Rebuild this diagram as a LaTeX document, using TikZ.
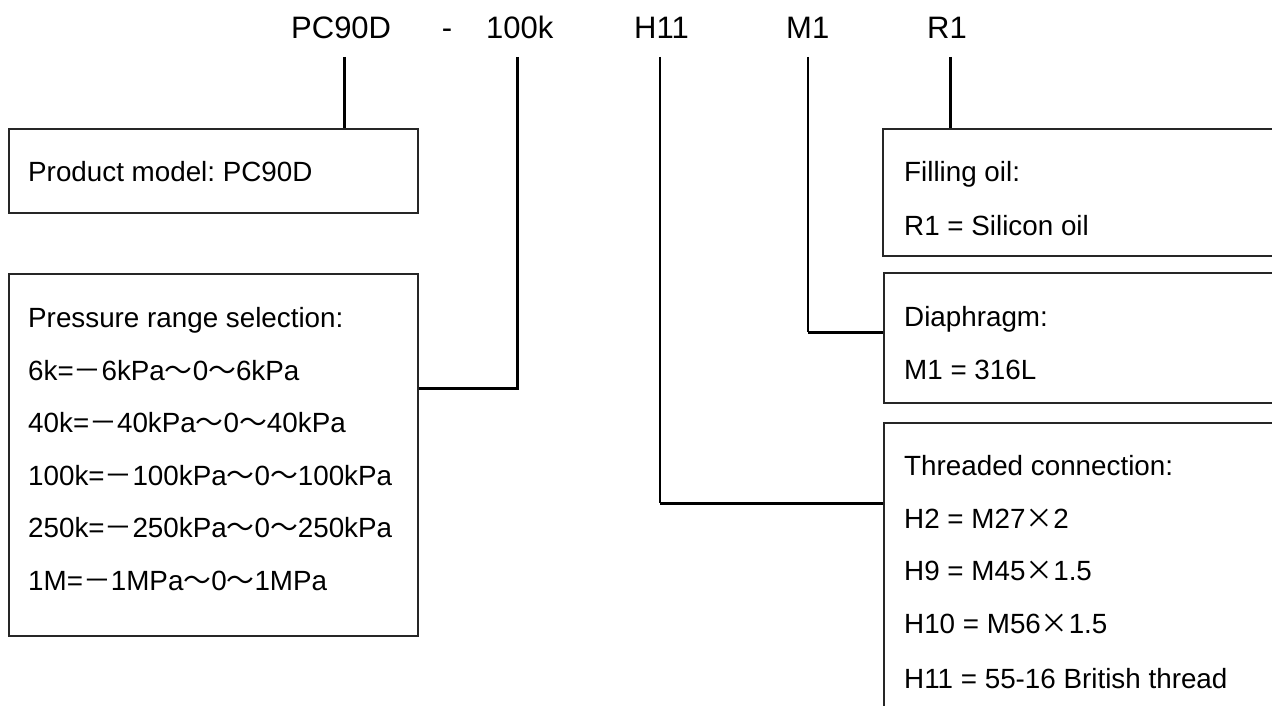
\documentclass[tikz,border=0pt]{standalone}
\usepackage{fontspec}
\setmainfont{Liberation Sans}
\newfontfamily\cjkfont{Noto Sans CJK SC}
\newfontfamily\cjkfwfont[RawFeature=+fwid]{Noto Sans CJK SC}
\newcommand{\fmin}{{\cjkfont －}}
\newcommand{\ftil}{{\cjkfont ～}}
\newcommand{\ftimes}{{\cjkfwfont ×}}
\frenchspacing
\begin{document}
\begin{tikzpicture}[x=1pt,y=-1pt,
  boxst/.style={draw=black!85, line width=2pt, inner sep=0pt, anchor=north west, rectangle},
  txt/.style={anchor=base west, inner sep=0pt, font=\fontsize{27.8}{32}\selectfont},
  hdr/.style={anchor=base west, inner sep=0pt, font=\fontsize{31}{35}\selectfont},
  conn/.style={line width=3pt},
  thinconn/.style={line width=2pt}]
\useasboundingbox (0,0) rectangle (1272,706);
\clip (0,0) rectangle (1272,706);
\fill[white] (0,0) rectangle (1272,706);

% header
\node[hdr] (hPC) at (291,39) {PC90D};
\node[hdr, anchor=base] (hdash) at (447,39) {-};
\node[hdr] (h100) at (486,39) {100k};
\node[hdr] (hH) at (634,39) {H11};
\node[hdr] (hM) at (786,39) {M1};
\node[hdr] (hR) at (927,39) {R1};

% boxes
\node[boxst, minimum width=409pt, minimum height=84pt] (b1) at (8,128) {};
\node[boxst, minimum width=409pt, minimum height=362pt] (b2) at (8,273) {};
\node[boxst, minimum width=430pt, minimum height=127pt] (b3) at (882,128) {};
\node[boxst, minimum width=430pt, minimum height=130pt] (b4) at (883,272) {};
\node[boxst, minimum width=430pt, minimum height=330pt] (b5) at (883,422) {};

% texts
\node[txt] (t1) at (28,182) {Product model: PC90D};

\node[txt] (p0) at (28,327) {Pressure range selection:};
\node[txt] (p1) at (28,380) {6k=\fmin 6kPa\ftil 0\ftil 6kPa};
\node[txt] (p2) at (28,432) {40k=\fmin 40kPa\ftil 0\ftil 40kPa};
\node[txt] (p3) at (28,485) {100k=\fmin 100kPa\ftil 0\ftil 100kPa};
\node[txt] (p4) at (28,537) {250k=\fmin 250kPa\ftil 0\ftil 250kPa};
\node[txt] (p5) at (28,590) {1M=\fmin 1MPa\ftil 0\ftil 1MPa};

\node[txt] (r0) at (904,182) {Filling oil:};
\node[txt] (r1) at (904,235) {R1 = Silicon oil};

\node[txt] (m0) at (904,326) {Diaphragm:};
\node[txt] (m1) at (904,379) {M1 = 316L};

\node[txt] (c0) at (904,475) {Threaded connection:};
\node[txt] (c1) at (904,528) {H2 = M27\ftimes 2};
\node[txt] (c2) at (904,580) {H9 = M45\ftimes 1.5};
\node[txt] (c3) at (904,633) {H10 = M56\ftimes 1.5};
\node[txt] (c4) at (904,688) {H11 = 55-16 British thread};

% connectors
\coordinate (tPC) at (344,57);
\draw[conn] (tPC) -- (tPC |- b1.north);

\coordinate (t100) at (517,57);
\coordinate (j100) at (517,388);
\draw[conn] (t100) -- (j100) -- (j100 -| b2.east);

\coordinate (tH) at (660,57);
\coordinate (jH) at (660,503);
\draw[thinconn] (tH) -- (jH);
\draw[conn] (jH) -- (jH -| b5.west);

\coordinate (tM) at (808,57);
\coordinate (jM) at (808,332);
\draw[thinconn] (tM) -- (jM);
\draw[conn] (jM) -- (jM -| b4.west);

\coordinate (tR) at (950,57);
\draw[conn] (tR) -- (tR |- b3.north);
\end{tikzpicture}
\end{document}
